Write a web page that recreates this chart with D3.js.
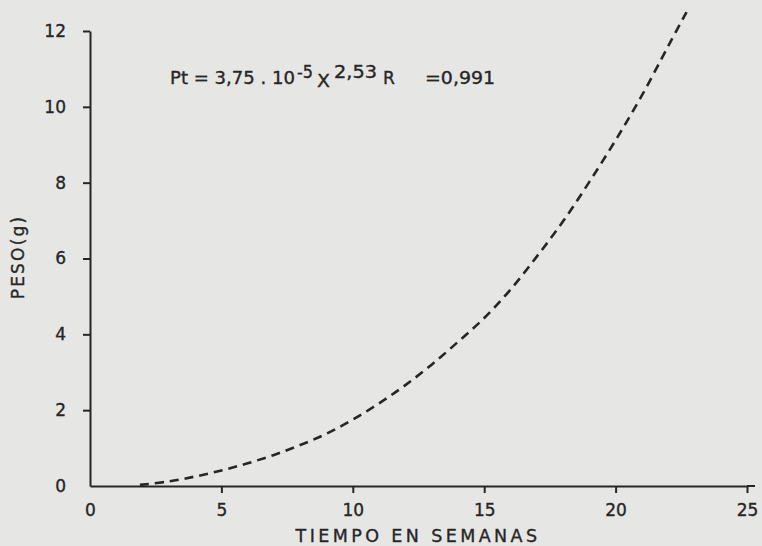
<!DOCTYPE html>
<html>
<head>
<meta charset="utf-8">
<script src="https://cdn.jsdelivr.net/npm/d3@7"></script>
<style>
  html, body { margin: 0; padding: 0; background: #e6e6e4; }
  svg { display: block; }
  text { font-family: "DejaVu Sans", "Liberation Sans", sans-serif; fill: #262626; stroke: #262626; stroke-width: 0.35px; }
</style>
</head>
<body>
<svg id="chart" width="762" height="546"></svg>
<script>
// Data
const weeks  = [1.9, 3, 4, 5, 6, 7, 8, 9, 10, 11, 12, 13, 14, 15, 16, 17, 18, 19, 20, 21, 22, 22.7];
const weight = [0.03, 0.12, 0.25, 0.41, 0.6, 0.82, 1.08, 1.38, 1.75, 2.18, 2.66, 3.2, 3.8, 4.43, 5.18, 6.05, 6.98, 8.02, 9.12, 10.3, 11.6, 12.5];
const xTicks = [0, 5, 10, 15, 20, 25];
const yTicks = [0, 2, 4, 6, 8, 10, 12];
const xTitle = "TIEMPO EN SEMANAS";
const yTitle = "PESO(g)";

const svg = d3.select("#chart");
const ink = "#262626";

const x = d3.scaleLinear().domain([0, 25]).range([90, 747]);
const y = d3.scaleLinear().domain([0, 12]).range([486, 31]);

// Y axis
const yAxis = svg.append("g")
  .attr("transform", `translate(${x(0)},0)`)
  .call(d3.axisLeft(y).tickValues(yTicks).tickSize(7).tickSizeOuter(0).tickPadding(17).tickFormat(d3.format("d")));
yAxis.select(".domain").attr("stroke", ink).attr("stroke-width", 2);
yAxis.selectAll(".tick line").attr("stroke", ink).attr("stroke-width", 2);
yAxis.selectAll(".tick").filter(d => d === 0).select("line").remove();
yAxis.selectAll(".tick text").attr("font-size", 17);

// X axis
const xAxis = svg.append("g")
  .attr("transform", `translate(0,${y(0)})`)
  .call(d3.axisBottom(x).tickValues(xTicks).tickSize(7).tickSizeOuter(0).tickPadding(11).tickFormat(d3.format("d")));
xAxis.select(".domain").attr("stroke", ink).attr("stroke-width", 2);
xAxis.selectAll(".tick").filter(d => d === 0).select("line").remove();
xAxis.selectAll(".tick line").attr("stroke", ink).attr("stroke-width", 2);
xAxis.selectAll(".tick text").attr("font-size", 17);
// small overhang of the x axis line past the last tick
xAxis.append("line")
  .attr("x1", x(25)).attr("x2", x(25) + 8)
  .attr("y1", 0).attr("y2", 0)
  .attr("stroke", ink).attr("stroke-width", 2);

// Curve
const line = d3.line().x((d, i) => x(weeks[i])).y(d => y(d)).curve(d3.curveCatmullRom);
svg.append("path")
  .datum(weight)
  .attr("d", line)
  .attr("fill", "none")
  .attr("stroke", ink)
  .attr("stroke-width", 2.6)
  .attr("stroke-dasharray", "9,6");

// Axis titles
svg.append("text")
  .attr("x", 418).attr("y", 542)
  .attr("text-anchor", "middle")
  .attr("font-size", 17.5)
  .attr("letter-spacing", 3.4)
  .text(xTitle);

svg.append("text")
  .attr("transform", "translate(24,257) rotate(-90)")
  .attr("text-anchor", "middle")
  .attr("font-size", 17)
  .attr("letter-spacing", 2.2)
  .text(yTitle);

// Equation
const eq = svg.append("text")
  .attr("font-size", 17);
eq.append("tspan").attr("x", 170).attr("y", 84).attr("textLength", 125).attr("lengthAdjust", "spacingAndGlyphs").text("Pt = 3,75 . 10");
eq.append("tspan").attr("x", 297).attr("y", 78).attr("textLength", 16).attr("lengthAdjust", "spacingAndGlyphs").text("-5");
eq.append("tspan").attr("x", 317).attr("y", 87).attr("textLength", 13).attr("lengthAdjust", "spacingAndGlyphs").text("X");
eq.append("tspan").attr("x", 334).attr("y", 78).attr("textLength", 43).attr("lengthAdjust", "spacingAndGlyphs").text("2,53");
eq.append("tspan").attr("x", 383).attr("y", 84).text("R");
eq.append("tspan").attr("x", 425).attr("y", 84).attr("textLength", 70).attr("lengthAdjust", "spacingAndGlyphs").text("=0,991");
</script>
</body>
</html>
